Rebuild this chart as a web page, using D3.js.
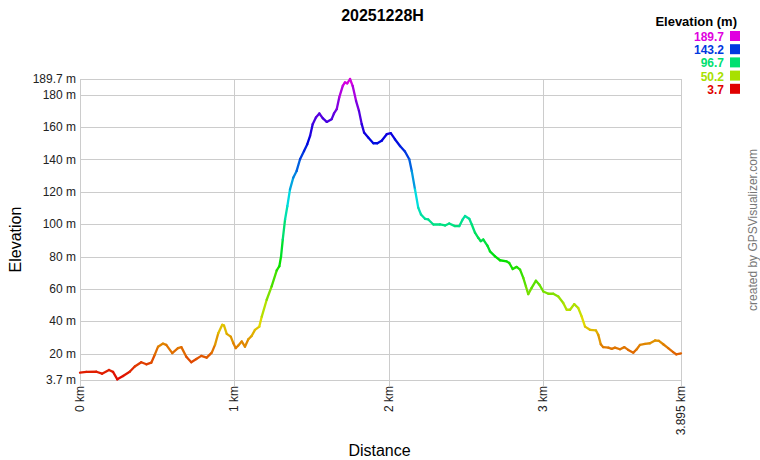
<!DOCTYPE html>
<html>
<head>
<meta charset="utf-8">
<script src="https://cdn.jsdelivr.net/npm/d3@7"></script>
<style>
  body { margin: 0; background: #fff; }
  text { font-family: Arial, "Liberation Sans", sans-serif; }
</style>
</head>
<body>
<div id="chart1"></div>
<script>
// profile
const distKm = [0, 0.041, 0.106, 0.143, 0.188, 0.214, 0.242, 0.279, 0.322, 0.355, 0.397, 0.430, 0.462, 0.484,
  0.506, 0.538, 0.559, 0.598, 0.635, 0.657, 0.689, 0.721, 0.754, 0.786, 0.821, 0.854, 0.875, 0.896, 0.922,
  0.933, 0.951, 0.977, 0.994, 1.009, 1.026, 1.048, 1.069, 1.091, 1.113, 1.134, 1.162, 1.178, 1.210, 1.242,
  1.275, 1.292, 1.303, 1.314, 1.329, 1.344, 1.361, 1.382, 1.404, 1.426, 1.452, 1.473, 1.491, 1.508, 1.529,
  1.551, 1.573, 1.599, 1.631, 1.646, 1.664, 1.680, 1.703, 1.717, 1.732, 1.750, 1.767, 1.789, 1.808, 1.826,
  1.841, 1.868, 1.901, 1.927, 1.955, 1.988, 2.014, 2.041, 2.074, 2.106, 2.134, 2.150, 2.171, 2.192, 2.210,
  2.236, 2.257, 2.290, 2.333, 2.366, 2.393, 2.430, 2.458, 2.480, 2.495, 2.523, 2.539, 2.560, 2.581, 2.597,
  2.614, 2.640, 2.657, 2.690, 2.722, 2.765, 2.782, 2.804, 2.830, 2.852, 2.873, 2.890, 2.905, 2.927, 2.955,
  2.977, 3.003, 3.035, 3.067, 3.100, 3.132, 3.154, 3.176, 3.203, 3.229, 3.251, 3.273, 3.305, 3.344, 3.359,
  3.375, 3.391, 3.424, 3.446, 3.467, 3.500, 3.528, 3.553, 3.586, 3.608, 3.629, 3.662, 3.694, 3.727, 3.752,
  3.780, 3.812, 3.844, 3.864, 3.895];
const elevM = [8.2, 8.7, 8.8, 7.6, 9.9, 8.7, 4.1, 6.2, 8.8, 12.0, 14.7, 13.4, 14.4, 19.2,
  24.3, 26.2, 25.4, 20.3, 23.4, 24.0, 18.1, 14.7, 16.7, 18.6, 17.5, 20.6, 25.4, 32.6, 37.8,
  37.4, 32.2, 30.5, 26.4, 23.4, 25.0, 27.5, 24.3, 28.9, 31.0, 34.7, 36.7, 42.9, 53.3, 61.5,
  71.5, 74.0, 80.1, 90.5, 102.9, 111.2, 121.5, 128.7, 132.9, 140.1, 145.2, 149.4, 154.5, 161.8, 165.9,
  168.4, 165.5, 163.2, 164.9, 168.4, 171.1, 178.3, 185.5, 187.6, 187.0, 189.7, 185.5, 176.2, 170.0, 161.8,
  156.6, 153.5, 150.0, 150.0, 151.5, 155.6, 156.2, 152.5, 148.3, 144.9, 140.1, 132.9, 121.5, 110.2, 106.0,
  103.3, 102.9, 99.8, 99.8, 99.2, 100.4, 98.8, 98.8, 102.9, 105.0, 103.3, 99.8, 94.7, 91.6, 89.5,
  90.5, 86.8, 83.2, 80.1, 77.7, 77.0, 76.0, 72.3, 73.6, 71.9, 66.8, 61.5, 56.8, 60.6, 65.1,
  62.6, 58.4, 57.0, 57.0, 55.3, 51.3, 47.1, 47.1, 50.6, 48.2, 43.0, 36.7, 34.7, 34.3, 31.6,
  25.8, 24.0, 23.7, 22.9, 23.7, 22.7, 24.0, 22.3, 20.6, 22.7, 25.4, 26.0, 26.4, 28.1, 27.9,
  25.8, 23.4, 20.9, 19.6, 20.2];

const yTicks = [3.7, 20, 40, 60, 80, 100, 120, 140, 160, 180, 189.7];
const xTicks = [0, 1, 2, 3, 3.895];
const legendVals = [189.7, 143.2, 96.7, 50.2, 3.7];

const W = 760, H = 460;
const margin = {top: 79, right: 79, bottom: 80, left: 80};
const width = W - margin.left - margin.right;
const height = H - margin.top - margin.bottom;

const svg = d3.select("#chart1").append("svg")
    .attr("width", W)
    .attr("height", H);

const chart1 = svg.append("g")
    .attr("transform", "translate(" + margin.left + "," + margin.top + ")");

const x = d3.scaleLinear().domain([0, 3.895]).range([0, width]);
const y = d3.scaleLinear().domain([3.7, 189.7]).range([height, 0]);
const z = function(v) { return d3.hsl(300 * (v - 3.7) / 186, 1, 0.44).formatHex(); };

// grid
chart1.append("g")
    .selectAll("line")
    .data(yTicks)
    .enter().append("line")
    .attr("x1", 0).attr("x2", width)
    .attr("y1", d => Math.round(y(d)) + 0.5).attr("y2", d => Math.round(y(d)) + 0.5)
    .attr("stroke", "#cccccc");

chart1.append("g")
    .selectAll("line")
    .data(xTicks)
    .enter().append("line")
    .attr("x1", d => Math.round(x(d)) + 0.5).attr("x2", d => Math.round(x(d)) + 0.5)
    .attr("y1", 0).attr("y2", height + 6)
    .attr("stroke", "#cccccc");

// tick labels
chart1.append("g")
    .attr("font-size", 12)
    .attr("fill", "#222")
    .attr("text-anchor", "end")
    .selectAll("text")
    .data(yTicks)
    .enter().append("text")
    .attr("x", -4)
    .attr("y", d => y(d))
    .attr("dy", "0.35em")
    .text(d => d + " m");

chart1.append("g")
    .attr("font-size", 12)
    .attr("fill", "#222")
    .attr("text-anchor", "end")
    .selectAll("text")
    .data(xTicks)
    .enter().append("text")
    .attr("transform", d => "translate(" + (x(d) + 4) + "," + (height + 6) + ") rotate(-90)")
    .text(d => d + " km");

// profile, one segment per pair so the colour follows elevation
const pts = distKm.map((d, i) => [x(d), y(elevM[i]), elevM[i]]);
chart1.append("g")
    .attr("stroke-width", 2.3)
    .attr("stroke-linecap", "round")
    .selectAll("line")
    .data(pts.slice(1))
    .enter().append("line")
    .attr("x1", (d, i) => pts[i][0]).attr("y1", (d, i) => pts[i][1])
    .attr("x2", d => d[0]).attr("y2", d => d[1])
    .attr("stroke", (d, i) => z((d[2] + pts[i][2]) / 2));

// titles
svg.append("text")
    .attr("x", margin.left + width / 2 + 2)
    .attr("y", 21)
    .attr("text-anchor", "middle")
    .attr("font-size", 16)
    .attr("font-weight", "bold")
    .text("20251228H");

svg.append("text")
    .attr("transform", "translate(21," + (margin.top + height / 2 + 10) + ") rotate(-90)")
    .attr("text-anchor", "middle")
    .attr("font-size", 16)
    .text("Elevation");

svg.append("text")
    .attr("x", margin.left + width / 2 - 1)
    .attr("y", 456)
    .attr("text-anchor", "middle")
    .attr("font-size", 16)
    .text("Distance");

svg.append("text")
    .attr("transform", "translate(757,230) rotate(-90)")
    .attr("text-anchor", "middle")
    .attr("font-size", 12)
    .attr("fill", "#777")
    .text("created by GPSVisualizer.com");

// legend
svg.append("text")
    .attr("x", 737)
    .attr("y", 26)
    .attr("text-anchor", "end")
    .attr("font-size", 13)
    .attr("font-weight", "bold")
    .text("Elevation (m)");

const legend = svg.append("g")
    .selectAll("g")
    .data(legendVals)
    .enter().append("g")
    .attr("transform", (d, i) => "translate(0," + (31 + i * 13.2) + ")");

legend.append("rect")
    .attr("x", 730)
    .attr("width", 10)
    .attr("height", 10)
    .attr("fill", z);

legend.append("text")
    .attr("x", 724)
    .attr("y", 10)
    .attr("text-anchor", "end")
    .attr("font-size", 12)
    .attr("font-weight", "bold")
    .attr("fill", z)
    .text(d => d);
</script>
</body>
</html>
